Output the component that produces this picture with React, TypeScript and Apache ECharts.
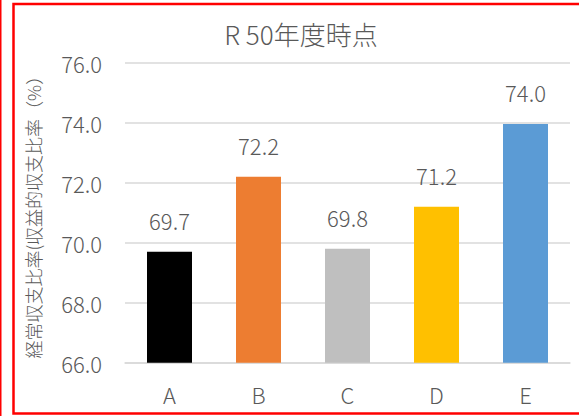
import React, { useEffect, useRef } from "react";
import * as echarts from "echarts";

const title = "R 50年度時点";
const categories = ["A", "B", "C", "D", "E"];
const values = [69.7, 72.2, 69.8, 71.2, 73.96];
const barColors = ["#000000", "#ED7D31", "#BFBFBF", "#FFC000", "#5B9BD5"];
const yAxisName = "経常収支比率(収益的収支比率（%）";
const yMin = 66;
const yMax = 76;
const yInterval = 2;

const FONT = "'Noto Sans CJK JP', 'Noto Sans', sans-serif";
const TEXT = "#595959";
const W = 300;

export default function App() {
  const ref = useRef<HTMLDivElement>(null);
  useEffect(() => {
    if (!ref.current) return;
    const chart = echarts.init(ref.current, undefined, { renderer: "svg" });
    chart.setOption({
      animation: false,
      backgroundColor: "#ffffff",
      textStyle: { fontFamily: FONT },
      title: {
        text: title,
        left: 296,
        top: 15,
        textAlign: "center",
        textStyle: { fontFamily: FONT, fontSize: 26, fontWeight: W, color: TEXT },
      },
      grid: { left: 125, right: 9, top: 62.7, bottom: 53.3, containLabel: false },
      xAxis: {
        type: "category",
        data: categories,
        axisLine: { show: true, lineStyle: { color: "#D9D9D9", width: 1.5 } },
        axisTick: { show: false },
        axisLabel: { color: TEXT, fontSize: 22, fontWeight: W, fontFamily: FONT, margin: 20 },
      },
      yAxis: {
        type: "value",
        min: yMin,
        max: yMax,
        interval: yInterval,
        name: yAxisName,
        nameLocation: "middle",
        nameRotate: 90,
        nameGap: 83,
        nameTextStyle: { color: TEXT, fontSize: 18, fontWeight: W, fontFamily: FONT },
        axisLine: { show: false },
        axisTick: { show: false },
        axisLabel: {
          color: TEXT,
          fontSize: 22,
          fontWeight: W,
          fontFamily: FONT,
          margin: 23,
          formatter: (v: number) => v.toFixed(1),
        },
        splitLine: { lineStyle: { color: "#D9D9D9", width: 1.5 } },
      },
      series: [
        {
          type: "bar",
          barWidth: 45,
          data: values.map((v, i) => ({ value: v, itemStyle: { color: barColors[i] } })),
          label: {
            show: true,
            position: "top",
            distance: 21,
            color: TEXT,
            fontSize: 22,
            fontWeight: W,
            fontFamily: FONT,
            formatter: (p: any) => Number(p.value).toFixed(1),
          },
        },
      ],
      graphic: [
        {
          type: "rect",
          shape: { x: 13.5, y: 4, width: 580, height: 409.5 },
          style: { fill: "none", stroke: "#FF0000", lineWidth: 2.5 },
          silent: true,
        },
        {
          type: "line",
          shape: { x1: 0.75, y1: 0, x2: 0.75, y2: 416 },
          style: { stroke: "#FF0000", lineWidth: 1.5 },
          silent: true,
        },
      ],
    });
    return () => chart.dispose();
  }, []);
  return (
    <div
      ref={ref}
      style={{ position: "absolute", left: 0, top: 0, width: 579, height: 416 }}
    />
  );
}
